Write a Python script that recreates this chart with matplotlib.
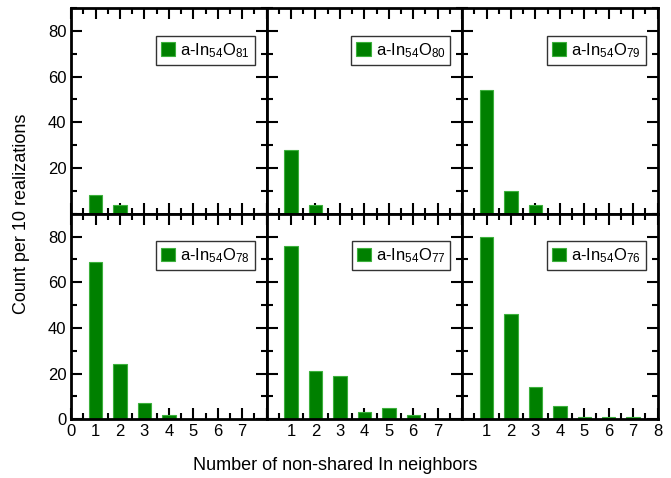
import matplotlib
matplotlib.use("Agg")
import matplotlib.pyplot as plt
from matplotlib.ticker import MultipleLocator

plt.rcParams['font.family'] = ['Liberation Sans', 'DejaVu Sans']
plt.rcParams['mathtext.fontset'] = 'custom'
plt.rcParams['mathtext.rm'] = 'Liberation Sans'
plt.rcParams['mathtext.it'] = 'Liberation Sans'

labels = ["81", "80", "79", "78", "77", "76"]
neighbors = [1, 2, 3, 4, 5, 6, 7]
counts_81 = [8, 4, 0, 0, 0, 0, 0]
counts_80 = [28, 4, 0, 0, 0, 0, 0]
counts_79 = [54, 10, 4, 0, 0, 0, 0]
counts_78 = [69, 24, 7, 2, 0, 0, 0]
counts_77 = [76, 21, 19, 3, 5, 2, 0]
counts_76 = [80, 46, 14, 6, 1, 1, 1]
all_counts = [counts_81, counts_80, counts_79, counts_78, counts_77, counts_76]

fig = plt.figure(figsize=(6.71, 4.78), dpi=100)
gs = fig.add_gridspec(2, 3, left=0.106, right=0.980, top=0.983, bottom=0.123,
                      wspace=0, hspace=0)

for i in range(6):
    r, c = divmod(i, 3)
    ax = fig.add_subplot(gs[r, c])
    vals = all_counts[i]
    ax.bar(neighbors, vals, width=0.55, color='#008000', edgecolor='#3cb03c',
           linewidth=0.8, label=r'a-In$_{\mathregular{' + '54' + '}}$O$_{\mathregular{' + labels[i] + '}}$', zorder=2)
    ax.set_xlim(0, 8)
    ax.set_ylim(0, 90)
    ax.xaxis.set_major_locator(MultipleLocator(1))
    ax.xaxis.set_minor_locator(MultipleLocator(0.5))
    ax.yaxis.set_major_locator(MultipleLocator(20))
    ax.yaxis.set_minor_locator(MultipleLocator(10))
    ax.tick_params(which='both', direction='in', top=True, right=True, width=1.5,
                   labelsize=12, zorder=3)
    ax.tick_params(which='major', length=8)
    ax.tick_params(which='minor', length=4)
    for s in ax.spines.values():
        s.set_linewidth(2)
    if r == 0:
        ax.set_xticklabels([])
    else:
        ax.set_xticks(range(0, 9))
        if c == 0:
            ax.set_xticklabels([str(k) if k <= 7 else '' for k in range(0, 9)])
        elif c == 1:
            ax.set_xticklabels([str(k) if 1 <= k <= 7 else '' for k in range(0, 9)])
        else:
            ax.set_xticklabels([str(k) if k >= 1 else '' for k in range(0, 9)])
    if c == 0:
        ax.set_yticks(range(0, 100, 20))
        if r == 0:
            ax.set_yticklabels(['' if v == 0 else str(v) for v in range(0, 100, 20)])
        else:
            ax.set_yticklabels([str(v) for v in range(0, 100, 20)])
    else:
        ax.set_yticklabels([])
    leg = ax.legend(loc='upper right', bbox_to_anchor=(0.94, 0.865), fontsize=12,
                    frameon=True, fancybox=False,
                    handlelength=0.85, handleheight=0.85, handletextpad=0.3,
                    borderpad=0.3, borderaxespad=0.0)
    leg.get_frame().set_edgecolor('black')
    leg.get_frame().set_linewidth(1.0)

fig.text(0.5, 0.008, 'Number of non-shared In neighbors', ha='center', va='bottom', fontsize=13)
fig.text(0.020, 0.553, 'Count per 10 realizations', rotation=90, ha='left', va='center', fontsize=13)

fig.savefig('out.png', dpi=100)
